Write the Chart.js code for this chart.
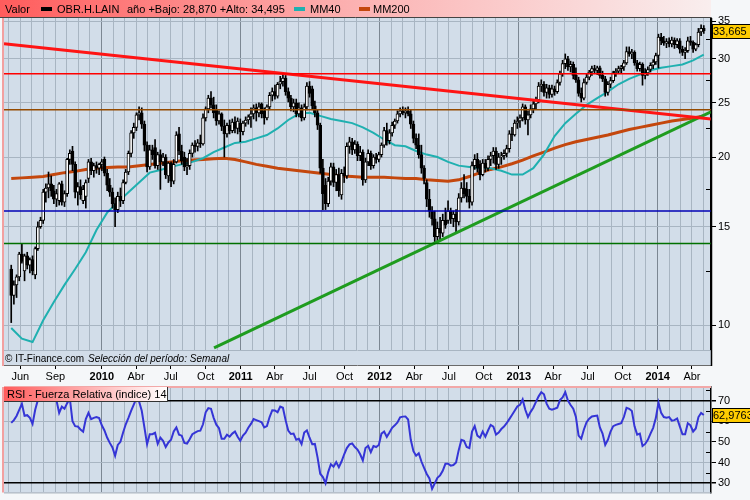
<!DOCTYPE html>
<html>
<head>
<meta charset="utf-8">
<title>OBR.H.LAIN</title>
<script src="https://cdn.jsdelivr.net/npm/chart.js@4.4.1/dist/chart.umd.min.js"></script>
<style>
  html, body { margin: 0; padding: 0; overflow: hidden; background: #f5f7f9; }
  #wrap { position: relative; width: 750px; height: 500px; overflow: hidden; }
  canvas { position: absolute; left: 0; }
</style>
</head>
<body>
<div id="wrap">
  <canvas id="precio" width="750" height="383" style="top:0"></canvas>
  <canvas id="rsi" width="750" height="126" style="top:375px"></canvas>
</div>
<script>
Chart.defaults.font.family = "'Liberation Sans', Arial, sans-serif";
Chart.defaults.font.size = 11;
Chart.defaults.color = '#000';

// ---- datos (semanal) ----
const ticker = 'OBR.H.LAIN';
const firstWeek = '2009-05-08';
const xFrom = '2009-04-19';
const xTo = '2014-05-21';

const opens = [
  12.6,11.3,11.8,12.2,13.4,12.5,13.3,12.8,13.1,12.3,
  13.7,15.0,15.4,17.3,17.6,17.9,17.4,16.8,16.7,17.9,
  16.6,17.2,19.8,20.5,19.4,17.3,17.7,16.7,17.0,18.3,
  19.6,18.9,19.3,19.1,19.4,19.8,18.7,17.8,17.3,16.5,
  16.1,17.0,16.7,18.0,18.8,20.3,22.1,22.6,23.8,24.0,
  22.9,21.0,19.2,20.6,20.8,19.3,20.2,19.6,20.0,18.5,
  19.5,18.1,19.6,22.0,20.5,20.0,19.2,19.3,20.3,21.0,
  20.9,21.2,21.1,23.5,24.4,25.5,24.8,24.3,23.2,23.9,
  22.7,22.0,22.8,22.3,23.1,22.5,23.0,22.2,23.0,23.3,
  23.6,23.9,24.5,24.0,24.9,24.2,23.5,24.6,25.8,26.2,
  25.7,27.0,27.3,27.7,26.2,25.5,24.6,25.0,23.9,24.5,
  23.5,24.6,26.8,26.5,24.7,24.0,22.8,19.1,17.8,16.5,
  18.1,19.2,18.0,18.6,17.1,18.7,18.5,20.9,21.3,20.6,
  21.1,20.1,20.4,18.2,19.6,20.3,19.3,20.0,19.8,20.2,
  21.0,22.3,21.4,22.1,22.8,23.2,23.9,24.2,24.0,24.2,
  23.9,22.9,21.6,21.0,20.2,19.1,18.0,16.8,16.0,15.5,
  14.4,14.9,14.6,15.4,15.4,16.0,15.5,15.8,15.3,16.9,
  17.6,17.5,17.0,16.6,19.3,19.8,19.4,18.6,19.5,19.1,
  19.8,20.1,20.5,19.4,20.0,20.1,20.3,20.7,22.0,21.9,
  23.0,23.2,23.5,24.6,23.3,23.8,24.4,24.9,25.3,26.8,
  27.0,26.1,26.6,25.9,26.5,26.2,27.2,28.2,29.4,30.0,
  29.0,29.3,28.0,27.5,26.0,25.5,27.2,27.8,28.4,28.8,
  28.6,28.9,28.0,27.6,26.1,27.0,27.4,28.3,28.5,28.8,
  29.0,29.5,30.9,30.6,30.8,29.5,28.8,29.3,28.0,28.3,
  28.7,29.2,29.6,30.4,32.8,32.3,32.0,32.2,31.9,32.4,
  31.8,32.3,31.2,30.8,31.0,32.3,32.1,31.2,31.8,33.5,
  34.0
];
const highs = [
  12.8,12.0,12.3,13.5,14.0,13.4,13.5,13.2,13.3,13.8,
  15.3,15.6,17.5,17.9,18.8,18.5,17.8,17.5,18.0,18.1,
  17.4,19.9,20.6,20.9,19.6,18.0,18.2,17.8,18.2,19.8,
  19.9,19.5,19.6,19.5,19.8,20.0,19.0,18.3,17.6,16.9,
  17.3,17.6,18.2,19.0,20.5,22.3,23.0,24.0,24.6,24.5,
  23.2,21.3,21.0,21.0,21.5,20.4,20.6,20.3,20.2,19.6,
  19.6,19.8,22.2,22.6,21.0,20.4,19.9,20.6,21.2,21.4,
  21.5,21.9,23.9,24.6,25.8,26.2,25.6,24.8,24.2,24.0,
  23.3,23.0,23.3,23.4,23.6,23.5,23.4,23.2,23.6,23.8,
  24.5,24.8,24.9,25.0,25.0,24.5,24.8,26.1,26.6,26.9,
  27.2,27.9,28.3,28.0,26.6,25.8,25.4,25.4,25.0,24.8,
  24.9,27.2,27.3,26.8,25.2,24.3,23.0,19.8,18.3,18.4,
  19.5,19.5,19.0,19.1,19.0,19.2,21.2,21.7,21.6,21.4,
  21.3,20.9,20.6,19.9,20.6,20.5,20.2,20.3,20.4,21.2,
  22.6,23.0,22.4,23.1,23.4,24.2,24.5,24.6,24.5,24.6,
  24.3,23.2,22.0,22.0,21.0,19.3,18.2,17.5,16.3,16.0,
  15.3,15.6,15.8,16.2,16.7,16.2,16.0,16.1,17.2,18.0,
  18.6,18.0,17.5,19.6,20.2,20.3,19.7,19.8,19.8,20.1,
  20.4,20.8,20.8,20.3,20.4,20.6,21.0,22.3,22.6,23.3,
  23.6,23.8,24.9,24.8,24.2,24.8,25.2,25.6,27.2,27.5,
  27.3,27.0,26.9,26.9,26.8,27.5,28.5,29.8,30.6,30.3,
  29.7,29.6,28.9,27.8,26.6,27.6,28.2,28.6,29.1,29.2,
  29.1,29.1,28.5,27.9,27.3,27.8,28.5,28.8,29.1,29.2,
  29.8,31.5,31.5,31.2,31.0,29.8,29.6,29.5,28.8,29.0,
  29.5,29.9,30.7,33.2,33.3,32.9,32.6,32.7,32.8,32.7,
  32.6,32.6,31.6,31.4,32.8,32.9,32.3,32.0,34.0,34.495,
  34.4
];
const lows = [
  10.1,10.9,11.2,12.0,12.9,12.0,12.6,12.4,12.3,12.1,
  13.6,14.9,15.2,16.6,16.9,17.0,16.5,16.3,16.4,16.4,
  16.3,17.0,19.4,18.9,16.9,16.4,16.8,16.5,16.2,18.0,
  18.6,18.4,18.7,18.6,18.9,18.5,17.4,17.0,16.2,15.0,
  15.9,16.3,16.5,17.9,18.6,20.0,21.6,22.3,23.3,22.5,
  20.5,18.8,19.0,19.8,19.1,19.0,17.5,19.3,18.3,18.0,
  17.7,17.9,19.5,20.2,19.4,18.9,18.6,19.0,20.0,20.4,
  20.5,20.8,21.0,23.2,24.0,24.5,23.5,22.8,22.9,22.3,
  20.0,21.7,22.0,22.1,22.1,22.0,21.3,21.9,22.7,22.9,
  22.6,23.4,23.2,23.6,23.5,22.9,23.3,24.3,25.2,25.4,
  25.5,26.5,26.8,25.8,25.1,24.2,24.1,23.6,23.6,23.2,
  23.3,24.3,25.6,24.3,23.6,22.4,18.7,16.1,16.1,16.3,
  17.8,17.7,17.4,17.0,16.8,18.0,18.3,20.3,20.2,20.3,
  19.7,19.7,17.8,18.0,19.3,19.0,19.1,19.5,19.6,20.0,
  20.8,21.0,21.1,21.8,22.5,23.0,23.6,23.8,23.5,23.7,
  22.5,21.2,20.7,19.9,18.7,17.9,16.3,15.6,15.1,14.0,
  14.1,14.2,14.4,14.9,15.2,15.2,15.0,14.7,15.1,16.6,
  16.9,16.6,16.2,16.4,19.0,18.8,18.2,18.5,18.8,18.9,
  19.3,19.5,19.0,19.1,19.4,19.8,20.0,20.4,21.4,21.8,
  22.5,22.6,23.2,22.9,21.9,23.5,24.0,24.4,25.0,26.2,
  25.7,25.5,25.5,25.6,25.8,26.0,26.9,27.9,28.8,28.6,
  28.4,27.6,27.2,25.7,25.1,25.3,27.0,27.5,28.0,28.2,
  28.1,27.7,27.3,25.7,25.8,26.6,27.2,27.9,28.2,28.3,
  28.6,29.3,30.3,30.0,29.2,28.5,28.5,26.9,27.6,28.0,
  28.4,28.8,29.3,28.87,31.8,31.7,31.4,31.5,31.5,31.3,
  31.4,30.7,30.4,30.0,30.8,31.7,30.8,31.0,31.5,33.0,
  33.3
];
const closes = [
  11.3,11.8,12.2,13.4,13.0,13.3,12.8,13.1,12.5,13.7,
  15.0,15.4,17.3,17.6,17.9,17.4,16.8,17.2,17.9,16.6,
  17.2,19.8,20.3,19.4,17.3,17.7,17.1,17.5,18.0,19.6,
  18.9,19.3,19.1,19.4,19.6,18.7,17.8,17.3,16.5,16.1,
  17.0,16.7,18.0,18.8,20.3,22.1,22.6,23.8,24.0,22.9,
  21.0,19.2,20.6,20.2,19.3,20.2,19.6,20.0,18.6,19.5,
  18.1,19.4,21.9,20.5,19.7,19.2,19.3,20.3,21.0,20.9,
  21.2,21.1,23.5,24.4,25.5,24.8,24.0,23.2,23.9,22.7,
  22.0,22.8,22.3,23.1,22.5,23.2,22.2,23.0,23.3,23.6,
  23.9,24.5,24.0,24.6,23.9,23.5,24.6,25.8,26.2,25.7,
  27.0,27.3,27.7,26.2,25.5,24.6,25.0,23.9,24.5,23.5,
  24.6,26.8,26.0,24.7,24.0,22.8,19.1,17.2,16.5,18.1,
  19.2,18.0,18.6,17.4,18.7,18.5,20.9,21.3,20.6,21.1,
  20.1,20.4,18.2,19.6,20.3,19.3,20.0,19.8,20.2,21.0,
  22.3,21.4,22.1,22.8,23.2,23.9,24.2,24.0,24.2,23.9,
  22.9,21.6,21.0,20.2,19.1,18.3,16.8,16.0,15.5,14.4,
  14.9,14.6,15.4,15.1,16.0,15.5,15.8,15.3,16.9,17.6,
  17.2,17.0,16.6,19.3,19.8,19.1,18.6,19.5,19.1,19.8,
  20.1,20.5,19.4,20.0,20.1,20.3,20.7,22.0,21.9,23.0,
  23.2,23.5,24.6,23.3,23.8,24.4,24.9,25.3,26.8,27.0,
  26.1,26.6,25.9,26.5,26.2,27.2,28.2,29.4,30.0,29.0,
  29.3,28.0,27.5,26.0,25.5,27.2,27.8,28.4,28.8,28.6,
  28.9,28.0,27.6,26.1,27.0,27.4,28.3,28.5,28.8,29.0,
  29.5,30.9,30.6,30.8,29.5,28.8,29.3,28.0,28.3,28.7,
  29.2,29.6,30.4,32.8,32.3,32.0,32.2,31.9,32.4,31.8,
  32.3,31.2,30.8,31.0,32.3,32.1,31.2,31.8,33.5,34.0,
  33.665
];
const rsi14 = [
  59.2,60.5,62.5,65.5,68.4,62.6,62.9,61.6,58.7,65.5,
  70.3,72,73.5,72,74,72.5,71,70,64,67,
  66,68.7,71,60,57.6,57.4,56,54.9,61,64,
  61,61.6,62,61.5,58,55.5,52.1,49.5,47.3,43.3,
  48.5,50,54.5,58.5,61.6,65,68,71,69.5,65,
  57,48.9,53.7,53.7,54.4,49,52,50.5,47.5,49.7,
  51,55,57,53.5,53,49.5,49.2,51.3,53.7,54.5,
  55.2,55.4,58.5,64.3,66.3,66,61.6,58.3,56.6,51.5,
  51.5,53.5,52.5,54,55,52.5,50.5,53,54.4,56.8,
  58.7,61,60.5,60,59.5,57,57.6,62,65.3,65.2,
  64.3,67.1,66.5,60.5,55.5,53.8,54,51,51.5,48.9,
  54.5,55.5,52,48.9,49,42.5,34.6,33,30,35.4,
  39.2,38,40.2,37.7,40.5,44,47,48.8,49.2,47.5,
  46.3,44,41,47,48.1,45,48,47.5,48.5,54,
  55,52.4,54.5,56.8,58,59.4,61.9,62.2,62.3,60.8,
  51,45.5,43.3,44.5,40.5,37.4,34.5,32.3,27.3,30,
  32.6,33.8,36,39.4,39.4,38.5,38.8,40,46,51,
  50.5,47.5,47,55,57.6,53,52,55,52.5,55.5,
  58.2,57.4,53.5,54.5,56.2,57.4,59,61,63,65,
  67.1,67.9,70.5,65.5,62,64.5,66.5,69.3,72,74,
  73,68.5,66,65.6,66,66.5,70.2,71.5,74,70,
  67.8,66,62,53,51.5,56,59.5,61.2,62.3,62.5,
  62.7,57,54,48.5,51,55,57.6,58.2,58.6,59,
  62,66.5,66,64.9,57.5,53.5,54,48,49,51,
  54,56.8,61.5,69,64,62,61.7,62,60.3,60.5,
  61.3,57.5,53.7,53.7,59,58,55,56.5,62,64,
  62.9763
];

// medias moviles, un valor cada 4 semanas
const maStep = 4;
const mm40 = [
  9.88,9.45,9.32,10.2,11.0,11.8,12.6,13.5,14.8,15.9,
  16.6,17.3,18.0,18.75,18.95,19.2,19.4,19.6,19.9,20.4,
  20.8,21.2,21.3,21.6,21.9,22.5,23.3,23.9,24.0,23.7,
  23.4,23.2,23.0,22.6,22.1,21.5,21.0,20.9,20.5,20.2,
  20.0,19.6,19.3,19.2,19.1,19.1,18.9,18.6,18.6,19.1,
  20.2,21.8,23.0,23.9,24.8,25.5,26.2,27.0,27.6,28.1,
  28.6,28.9,29.1,29.3,29.8,30.5
];
const mm200 = [
  18.3,18.35,18.4,18.45,18.6,18.75,18.85,19.0,19.1,19.15,
  19.2,19.2,19.3,19.4,19.5,19.6,19.7,19.75,19.8,19.85,
  19.9,19.8,19.6,19.4,19.25,19.1,19.0,18.9,18.8,18.7,
  18.6,18.5,18.45,18.4,18.4,18.4,18.35,18.3,18.3,18.2,
  18.15,18.1,18.2,18.45,18.75,19.0,19.2,19.45,19.75,20.1,
  20.4,20.75,21.05,21.3,21.5,21.7,21.9,22.15,22.4,22.6,
  22.8,23.0,23.2,23.35,23.5,23.7
];

// niveles horizontales y lineas de tendencia
const levelValues = [28.2, 24.3, 16.0, 14.0];
const redTrendDates = [xFrom, xTo];
const redTrendValues = [31.9, 23.4];
const greenTrendDates = ['2010-10-23', xTo];
const greenTrendValues = [9.1, 24.1];

// ejes
const priceRange = [9.02, 35.49];
const priceTicks = [10, 12.5, 15, 17.5, 20, 22.5, 25, 27.5, 30, 32.5, 35];
const rsiRange = [25.57, 76.52];
const rsiTicks = [30, 35, 40, 45, 50, 55, 60, 65, 70, 75];
const tickDates = ['2009-06-01','2009-09-01','2010-01-01','2010-04-01','2010-07-01','2010-10-01',
  '2011-01-01','2011-04-01','2011-07-01','2011-10-01','2012-01-01','2012-04-01','2012-07-01','2012-10-01',
  '2013-01-01','2013-04-01','2013-07-01','2013-10-01','2014-01-01','2014-04-01'];
const tickTexts = ['Jun','Sep','2010','Abr','Jul','Oct','2011','Abr','Jul','Oct','2012','Abr','Jul','Oct',
  '2013','Abr','Jul','Oct','2014','Abr'];

// estilos
const plotBg = '#d2dde9';
const gridMonth = '#a8b5c2';
const gridYear = '#7c8793';
const levelColors = ['#ff0000', '#944a00', '#0000b4', '#007000'];
const clear = 'rgba(0,0,0,0)';
const FONT = "'Liberation Sans', Arial, sans-serif";

// ---- utilidades ----
const day0 = Date.UTC(2009, 0, 1);
const dayOf = s => (Date.UTC(+s.slice(0, 4), +s.slice(5, 7) - 1, +s.slice(8, 10)) - day0) / 864e5;
const xMin = dayOf(xFrom), xMax = dayOf(xTo);
const weekX = closes.map((_, i) => dayOf(firstWeek) + 7 * i);
const fmt = (v, d) => v.toFixed(d).replace('.', ',');

const monthTicks = [];
const yearDays = new Set();
for (let y = 2009; y <= 2014; y++) {
  for (let m = 0; m < 12; m++) {
    const d = (Date.UTC(y, m, 1) - day0) / 864e5;
    if (d > xMin && d < xMax) {
      monthTicks.push(d);
      if (m === 0) yearDays.add(d);
    }
  }
}
const labelAt = {};
tickDates.forEach((s, k) => { labelAt[dayOf(s)] = tickTexts[k]; });

const startYear = dayOf('2014-01-01');
const yearIdx = weekX.map((x, i) => i).filter(i => weekX[i] >= startYear);
const yearLow = Math.min(...yearIdx.map(i => lows[i]));
const yearHigh = Math.max(...yearIdx.map(i => highs[i]));

function xScale(withLabels) {
  return {
    type: 'linear', min: xMin, max: xMax, offset: false,
    afterBuildTicks: s => { s.ticks = monthTicks.map(v => ({ value: v })); },
    afterFit: s => { s.height = withLabels ? 33 : 7; },
    border: { display: false },
    grid: {
      offset: false,
      color: c => (c.tick && yearDays.has(c.tick.value)) ? gridYear : gridMonth,
      tickColor: c => (c.tick && labelAt[c.tick.value]) ? '#000' : clear,
      tickLength: withLabels ? 19 : 0,
      drawTicks: withLabels
    },
    ticks: {
      display: withLabels, autoSkip: false, maxRotation: 0, minRotation: 0, padding: 1, color: '#000',
      callback: v => labelAt[v] || '',
      font: c => ({ family: FONT, size: 11,
        weight: (c.tick && /^\d{4}$/.test(labelAt[c.tick.value] || '')) ? 'bold' : 'normal' })
    }
  };
}

function valueBox(ctx, x, yc, text) {
  ctx.fillStyle = '#ffcc00';
  ctx.fillRect(x, Math.round(yc) - 7, 39, 15);
  ctx.strokeStyle = '#000';
  ctx.lineWidth = 1;
  ctx.strokeRect(x + 0.5, Math.round(yc) - 6.5, 38, 14);
  ctx.fillStyle = '#000';
  ctx.font = '11px ' + FONT;
  ctx.textAlign = 'left';
  ctx.textBaseline = 'middle';
  ctx.fillText(text, x + 1, Math.round(yc) + 1);
}

function hline(ctx, x1, x2, y, color, w) {
  ctx.strokeStyle = color; ctx.lineWidth = w || 1;
  ctx.beginPath(); ctx.moveTo(x1, y); ctx.lineTo(x2, y); ctx.stroke();
}
function vline(ctx, x, y1, y2, color, w) {
  ctx.strokeStyle = color; ctx.lineWidth = w || 1;
  ctx.beginPath(); ctx.moveTo(x, y1); ctx.lineTo(x, y2); ctx.stroke();
}

// ---- grafico de precios ----
const priceDecor = {
  id: 'priceDecor',
  beforeDraw(chart) {
    const { ctx, chartArea: a } = chart;
    ctx.save();
    ctx.fillStyle = plotBg;
    ctx.fillRect(a.left, a.top, a.right - a.left, a.bottom - a.top);
    ctx.restore();
  },
  afterDraw(chart) {
    const { ctx, chartArea: a, scales } = chart;
    ctx.save();
    // franja inferior
    ctx.fillStyle = plotBg;
    ctx.fillRect(a.left, a.bottom + 1, a.right - a.left, 14);
    hline(ctx, a.left, a.right, a.bottom + 0.5, gridMonth, 1);
    hline(ctx, a.left, a.right, a.bottom + 15.5, '#6a6a6a', 1);
    ctx.fillStyle = '#000';
    ctx.textAlign = 'left';
    ctx.textBaseline = 'alphabetic';
    ctx.font = '10px ' + FONT;
    ctx.fillText('\u00a9 IT-Finance.com', 5, a.bottom + 11.5);
    ctx.font = 'italic 10px ' + FONT;
    ctx.fillText('Selecci\u00f3n del per\u00edodo: Semanal', 88, a.bottom + 11.5);
    vline(ctx, a.right + 0.5, a.top, a.bottom + 16, '#000', 1.5);

    // cabecera
    const g = ctx.createLinearGradient(0, 0, a.right, 0);
    g.addColorStop(0, '#ff5c5c');
    g.addColorStop(0.5, '#fcb2b2');
    g.addColorStop(1, '#f9eeee');
    ctx.fillStyle = g;
    ctx.fillRect(0, 0, a.right, a.top);
    hline(ctx, 0, a.right, a.top - 0.5, '#444', 1);
    ctx.font = '11px ' + FONT;
    ctx.fillStyle = '#000';
    ctx.fillText('Valor', 5, 13);
    ctx.fillRect(41, 7, 11, 4);
    ctx.fillText(ticker, 57, 13);
    ctx.fillText('a\u00f1o +Bajo: ' + fmt(yearLow, 3) + ' +Alto: ' + fmt(yearHigh, 3), 127, 13);
    ctx.fillStyle = '#1fb0b0';
    ctx.fillRect(294, 7, 11, 4);
    ctx.fillStyle = '#000';
    ctx.fillText('MM40', 310, 13);
    ctx.fillStyle = '#c4470d';
    ctx.fillRect(359, 7, 11, 4);
    ctx.fillStyle = '#000';
    ctx.fillText('MM200', 373, 13);

    // borde izquierdo
    vline(ctx, 3, a.top, a.bottom + 16, '#f2a0a0', 2);

    // marcas menores hacia dentro
    priceTicks.filter(v => v % 5 !== 0).forEach(v => {
      const y = Math.round(scales.y.getPixelForValue(v)) + 0.5;
      hline(ctx, a.right - 5, a.right, y, '#000', 1);
    });

    valueBox(ctx, a.right + 1, scales.y.getPixelForValue(closes[closes.length - 1]), fmt(closes[closes.length - 1], 3));
    ctx.restore();
  }
};

const lineDs = (label, data, color, width, order) => ({
  type: 'line', label, data, borderColor: color, borderWidth: width,
  pointRadius: 0, tension: 0, fill: false, order
});

new Chart(document.getElementById('precio'), {
  type: 'bar',
  data: {
    datasets: [
      ...levelValues.map((v, k) => lineDs('nivel ' + v, [{ x: xMin, y: v }, { x: xMax, y: v }], levelColors[k], 1.5, 0)),
      lineDs('tendencia bajista', redTrendDates.map((s, k) => ({ x: dayOf(s), y: redTrendValues[k] })), '#ff1414', 3, 0),
      lineDs('tendencia alcista', greenTrendDates.map((s, k) => ({ x: dayOf(s), y: greenTrendValues[k] })), '#1f9c1f', 3, 0),
      {
        type: 'bar', label: 'mecha',
        data: weekX.map((x, i) => ({ x, y: [lows[i], highs[i]] })),
        backgroundColor: '#000', barThickness: 1, grouped: false, order: 2
      },
      {
        type: 'bar', label: ticker,
        data: weekX.map((x, i) => ({ x, y: [opens[i], closes[i]] })),
        backgroundColor: closes.map((c, i) => c >= opens[i] ? '#ffffff' : '#000000'),
        borderColor: '#000', borderWidth: 1, borderSkipped: false,
        barThickness: 3, minBarLength: 1, grouped: false, order: 1
      },
      lineDs('MM40', mm40.map((v, k) => ({ x: weekX[k * maStep], y: v })), '#1fb0b0', 2, 3),
      lineDs('MM200', mm200.map((v, k) => ({ x: weekX[k * maStep], y: v })), '#c4470d', 3, 3)
    ]
  },
  options: {
    responsive: false, animation: false, events: [],
    layout: { padding: { top: 18, left: 4, right: 0, bottom: 0 } },
    plugins: { legend: { display: false }, tooltip: { enabled: false } },
    scales: {
      x: xScale(true),
      y: {
        type: 'logarithmic', position: 'right', min: priceRange[0], max: priceRange[1],
        afterBuildTicks: s => { s.ticks = priceTicks.map(v => ({ value: v })); },
        afterFit: s => { s.width = 39; },
        border: { display: true, color: '#000', width: 1.5 },
        grid: {
          color: c => (c.tick && c.tick.value % 5 === 0) ? gridMonth : clear,
          tickColor: c => (c.tick && c.tick.value % 5 === 0) ? '#000' : clear,
          tickLength: 5
        },
        ticks: { autoSkip: false, padding: 2, color: '#000', callback: v => v % 5 === 0 ? String(v) : '' }
      }
    }
  },
  plugins: [priceDecor]
});

// ---- RSI ----
const rsiDecor = {
  id: 'rsiDecor',
  beforeDraw(chart) {
    const { ctx, chartArea: a } = chart;
    ctx.save();
    ctx.fillStyle = plotBg;
    ctx.fillRect(a.left, a.top, a.right - a.left, a.bottom - a.top);
    ctx.restore();
  },
  afterDraw(chart) {
    const { ctx, chartArea: a, scales } = chart;
    ctx.save();
    hline(ctx, a.left, a.right, a.top, '#f2a8a8', 2);
    vline(ctx, 3, a.top, a.bottom, '#f2a0a0', 2);
    hline(ctx, a.left, a.right, a.bottom + 0.5, '#9aa6b2', 1);

    const g = ctx.createLinearGradient(a.left, 0, a.left + 163, 0);
    g.addColorStop(0, '#ff5c5c');
    g.addColorStop(1, '#ffffff');
    ctx.fillStyle = g;
    ctx.fillRect(a.left, a.top, 163, 14);
    ctx.strokeStyle = '#333';
    ctx.lineWidth = 1;
    ctx.beginPath();
    ctx.moveTo(a.left + 163.5, a.top);
    ctx.lineTo(a.left + 163.5, a.top + 14.5);
    ctx.lineTo(a.left, a.top + 14.5);
    ctx.stroke();
    ctx.fillStyle = '#000';
    ctx.font = '11px ' + FONT;
    ctx.textAlign = 'left';
    ctx.textBaseline = 'alphabetic';
    ctx.fillText('RSI - Fuerza Relativa (indice) 14', a.left + 3, a.top + 11);

    rsiTicks.filter(v => v % 10 !== 0).forEach(v => {
      const y = Math.round(scales.y.getPixelForValue(v)) + 0.5;
      hline(ctx, a.right - 5, a.right, y, '#000', 1);
    });

    valueBox(ctx, a.right + 1, scales.y.getPixelForValue(rsi14[rsi14.length - 1]), fmt(rsi14[rsi14.length - 1], 4));
    ctx.restore();
  }
};

new Chart(document.getElementById('rsi'), {
  type: 'line',
  data: {
    datasets: [{
      label: 'RSI 14',
      data: weekX.map((x, i) => ({ x, y: rsi14[i] })),
      borderColor: '#3535d6', borderWidth: 2, pointRadius: 0, tension: 0, fill: false
    }]
  },
  options: {
    responsive: false, animation: false, events: [],
    layout: { padding: { top: 12, left: 4, right: 0, bottom: 0 } },
    plugins: { legend: { display: false }, tooltip: { enabled: false } },
    scales: {
      x: xScale(false),
      y: {
        type: 'linear', position: 'right', min: rsiRange[0], max: rsiRange[1],
        afterBuildTicks: s => { s.ticks = rsiTicks.map(v => ({ value: v })); },
        afterFit: s => { s.width = 39; },
        border: { display: true, color: '#000', width: 1.5 },
        grid: {
          color: c => !c.tick ? clear : (c.tick.value === 30 || c.tick.value === 70) ? '#000' : (c.tick.value % 10 === 0 ? gridMonth : clear),
          lineWidth: c => (c.tick && (c.tick.value === 30 || c.tick.value === 70)) ? 1.5 : 1,
          tickColor: c => (c.tick && c.tick.value % 10 === 0) ? '#000' : clear,
          tickLength: 5
        },
        ticks: { autoSkip: false, padding: 2, color: '#000', callback: v => v % 10 === 0 ? String(v) : '' }
      }
    }
  },
  plugins: [rsiDecor]
});
</script>
</body>
</html>
